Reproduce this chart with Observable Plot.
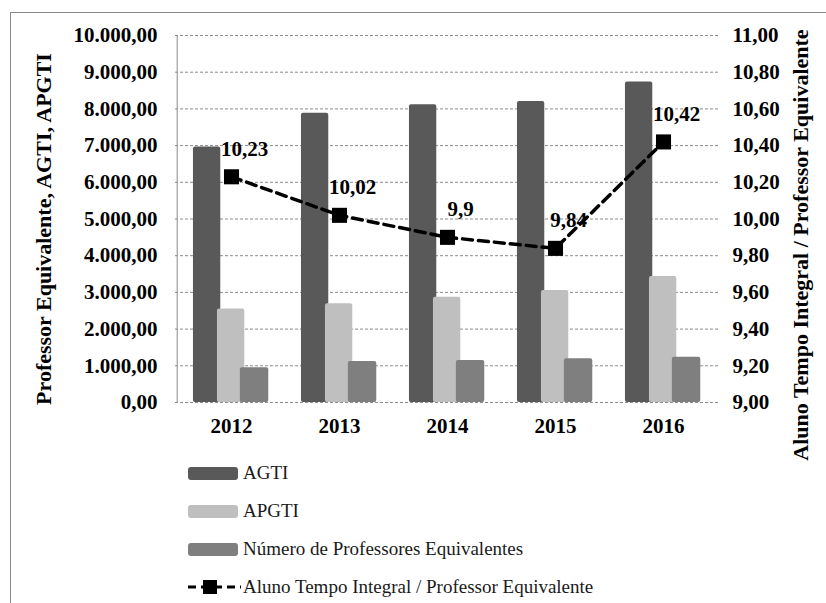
<!DOCTYPE html>
<html><head><meta charset="utf-8">
<script src="https://cdn.jsdelivr.net/npm/d3@7"></script>
<script src="https://cdn.jsdelivr.net/npm/@observablehq/plot@0.6"></script>
<style>
body{margin:0;background:#fff;}
#wrap{position:relative;width:826px;height:603px;overflow:hidden;font-family:'Liberation Serif','DejaVu Serif',Times,serif;}
#border{position:absolute;left:10px;top:12px;width:900px;height:700px;border-left:1.5px solid #8a8a8a;border-top:1.5px solid #8a8a8a;pointer-events:none;}
#legend{padding-left:188px;margin-top:-16px;position:relative;}
.row{display:flex;align-items:center;height:38px;font-size:19px;color:#1a1a1a;font-family:'Liberation Serif','DejaVu Serif',Times,serif;}
.sw{width:50px;height:13px;border-radius:3px;margin-right:5px;}
#chart svg text{font-family:'Liberation Serif','DejaVu Serif',Times,serif;}
</style></head>
<body><div id="wrap"><div id="border"></div><div id="chart"></div><div id="legend"></div></div>
<script>
const years = ["2012", "2013", "2014", "2015", "2016"];
const agti = [6960, 7880, 8110, 8200, 8730];
const apgti = [2550, 2690, 2870, 3050, 3430];
const professores = [945, 1115, 1145, 1190, 1235];
const ratio = [10.23, 10.02, 9.9, 9.84, 10.42];
const leftTicks = [0, 1000, 2000, 3000, 4000, 5000, 6000, 7000, 8000, 9000, 10000];
const rightTicks = [9, 9.2, 9.4, 9.6, 9.8, 10, 10.2, 10.4, 10.6, 10.8, 11];
const seriesNames = ["AGTI", "APGTI", "Número de Professores Equivalentes"];
const lineName = "Aluno Tempo Integral / Professor Equivalente";
const leftTitle = "Professor Equivalente, AGTI, APGTI";
const rightTitle = "Aluno Tempo Integral / Professor Equivalente";
const colors = ["#595959", "#bfbfbf", "#7f7f7f"];

const W = 826, H = 470, mL = 175, mR = 108, mT = 35, mB = 68;
const bw = (W - mL - mR) / years.length;
const toLeft = v => (v - 9) * 5000;
const loc = d3.formatLocale({decimal: ",", thousands: ".", grouping: [3], currency: ["", ""]});
const fmtL = loc.format(",.2f");
const fmtR = loc.format(".2f");
const rows = years.map((y, i) => ({year: y, agti: agti[i], apgti: apgti[i], prof: professores[i], ratio: ratio[i], r: toLeft(ratio[i])}));

const ins = (a, b) => ({insetLeft: a * bw, insetRight: bw - b * bw});
const serif = "Liberation Serif, DejaVu Serif, Times, serif";

const chart = Plot.plot({
  width: W, height: H,
  marginLeft: mL, marginRight: mR, marginTop: mT, marginBottom: mB,
  style: {fontFamily: serif, fontSize: "21px", fontWeight: "bold", color: "#000", background: "transparent"},
  x: {type: "band", domain: years, padding: 0, label: null},
  y: {domain: [0, 10000], label: null},
  marks: [
    Plot.gridY(leftTicks, {stroke: "#8c8c8c", strokeOpacity: 1, strokeDasharray: "3,2", strokeWidth: 1}),
    Plot.barY(rows, {x: "year", y: "agti", fill: colors[0], rx: 2, ...ins(0.147, 0.404)}),
    Plot.barY(rows, {x: "year", y: "apgti", fill: colors[1], rx: 2, ...ins(0.368, 0.625)}),
    Plot.barY(rows, {x: "year", y: "prof", fill: colors[2], rx: 2, ...ins(0.579, 0.846)}),
    Plot.ruleX(years.slice(0, 1), {y1: 0, y2: 10000, stroke: "#8c8c8c", dx: -bw / 2}),
    Plot.line(rows, {x: "year", y: "r", stroke: "#000", strokeWidth: 3.5, strokeDasharray: "10,6"}),
    Plot.dot(rows, {x: "year", y: "r", symbol: "square", r: 8.5, fill: "#000", stroke: null}),
    Plot.text(rows, {x: "year", y: "r", text: d => String(d.ratio).replace(".", ","), dx: 13, dy: -28, fontSize: 21, fontWeight: "bold", fill: "#000"}),
    Plot.axisY(leftTicks, {anchor: "left", tickFormat: fmtL, tickSize: 0, tickPadding: 18, label: null}),
    Plot.axisY(rightTicks.map(toLeft), {anchor: "right", tickFormat: d => fmtR(d / 5000 + 9), tickSize: 0, tickPadding: 14, label: null}),
    Plot.axisX({tickSize: 0, tickPadding: 16, label: null}),
    Plot.text([leftTitle], {frameAnchor: "left", textAnchor: "middle", dx: -132, dy: 10, rotate: -90, fontSize: 22, fontWeight: "bold", fill: "#000"}),
    Plot.text([rightTitle], {frameAnchor: "right", textAnchor: "middle", dx: 82, dy: 26, rotate: -90, fontSize: 22, fontWeight: "bold", fill: "#000"})
  ]
});
document.getElementById("chart").appendChild(chart);

const legend = document.getElementById("legend");
seriesNames.forEach((n, i) => {
  const r = document.createElement("div");
  r.className = "row";
  r.innerHTML = `<div class="sw" style="background:${colors[i]}"></div><span>${n}</span>`;
  legend.appendChild(r);
});
const lr = document.createElement("div");
lr.className = "row";
lr.innerHTML = `<svg width="55" height="16" style="margin-right:0"><line x1="0" x2="53" y1="8" y2="8" stroke="#000" stroke-width="3" stroke-dasharray="8,5"></line><rect x="15" y="1" width="14" height="14" fill="#000"></rect></svg><span>${lineName}</span>`;
legend.appendChild(lr);
</script>
</body></html>
